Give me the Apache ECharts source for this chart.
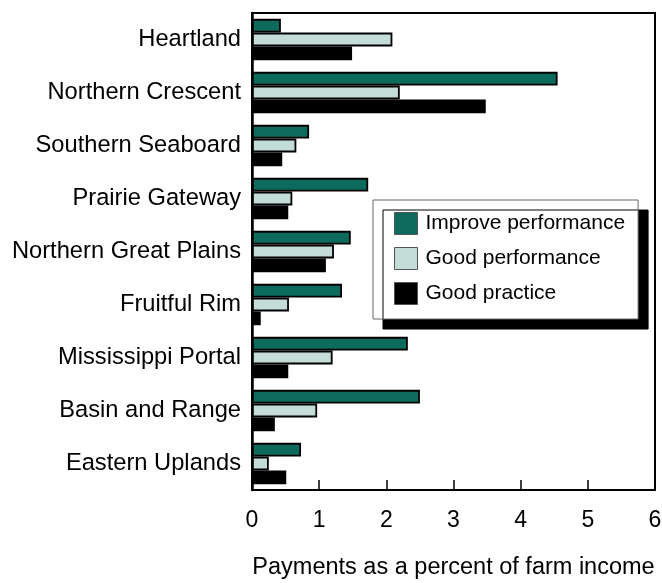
<!DOCTYPE html>
<html lang="en">
<head>
    <meta charset="UTF-8">
    <title>Payments as a percent of farm income</title>
    <script src="https://cdn.jsdelivr.net/npm/echarts@6/dist/echarts.min.js"></script>
    <style>
        html, body { margin: 0; padding: 0; background: #fff; }
        #main { width: 662px; height: 583px; }
    </style>
</head>
<body>
<div id="main"></div>
<script type="text/javascript">
    // regions, top to bottom
    var regions = ['Heartland', 'Northern Crescent', 'Southern Seaboard', 'Prairie Gateway',
        'Northern Great Plains', 'Fruitful Rim', 'Mississippi Portal', 'Basin and Range', 'Eastern Uplands'];

    var improvePerformance = [0.43, 4.55, 0.85, 1.73, 1.47, 1.34, 2.32, 2.50, 0.73];
    var goodPerformance    = [2.09, 2.20, 0.66, 0.60, 1.22, 0.55, 1.20, 0.97, 0.25];
    var goodPractice       = [1.49, 3.48, 0.45, 0.54, 1.10, 0.13, 0.54, 0.34, 0.51];

    var xTicks = [0, 1, 2, 3, 4, 5, 6];

    var font = 'Liberation Sans, Arial, Helvetica, sans-serif';
    var myChart = echarts.init(document.getElementById('main'), null, {renderer: 'canvas'});

    function barSeries(name, data, color) {
        return {
            name: name,
            type: 'bar',
            data: data,
            barGap: '0%',
            barCategoryGap: '22%',
            itemStyle: {color: color, borderColor: '#000', borderWidth: 1.8},
            emphasis: {disabled: true}
        };
    }

    var option = {
        animation: false,
        backgroundColor: '#fff',
        textStyle: {fontFamily: font},
        grid: {
            left: 252, right: 7, top: 13, bottom: 93,
            outerBoundsMode: 'none',
            show: true, borderColor: '#000', borderWidth: 2
        },
        legend: {
            orient: 'vertical',
            left: 373, top: 200,
            data: ['Improve performance', 'Good performance', 'Good practice'],
            icon: 'rect',
            itemWidth: 23, itemHeight: 22, itemGap: 12,
            padding: [12, 13, 14, 21],
            backgroundColor: '#fff',
            borderColor: '#666', borderWidth: 1,
            shadowColor: '#000', shadowBlur: 0, shadowOffsetX: 10, shadowOffsetY: 10,
            itemStyle: {borderColor: '#555', borderWidth: 1},
            textStyle: {fontFamily: font, fontSize: 21, color: '#000', padding: [0, 0, 0, 3]}
        },
        xAxis: {
            type: 'value',
            min: xTicks[0], max: xTicks[xTicks.length - 1], interval: 1,
            name: 'Payments as a percent of farm income',
            nameLocation: 'middle', nameGap: 66,
            nameTextStyle: {fontFamily: font, fontSize: 23.5, color: '#000'},
            axisLine: {show: true, lineStyle: {color: '#000', width: 2}},
            axisTick: {show: true, inside: true, length: 10, lineStyle: {color: '#000', width: 1.5}},
            axisLabel: {fontFamily: font, fontSize: 23, color: '#000', margin: 19},
            splitLine: {show: false}
        },
        yAxis: {
            type: 'category',
            data: regions,
            inverse: true,
            axisLine: {show: true, lineStyle: {color: '#000', width: 2.5}},
            axisTick: {show: false},
            axisLabel: {fontFamily: font, fontSize: 23.7, color: '#000', margin: 11, padding: [3, 0, 0, 0]}
        },
        series: [
            barSeries('Improve performance', improvePerformance, '#0c6b5d'),
            barSeries('Good performance', goodPerformance, '#c3dcd7'),
            barSeries('Good practice', goodPractice, '#000')
        ]
    };

    myChart.setOption(option);
</script>
</body>
</html>
